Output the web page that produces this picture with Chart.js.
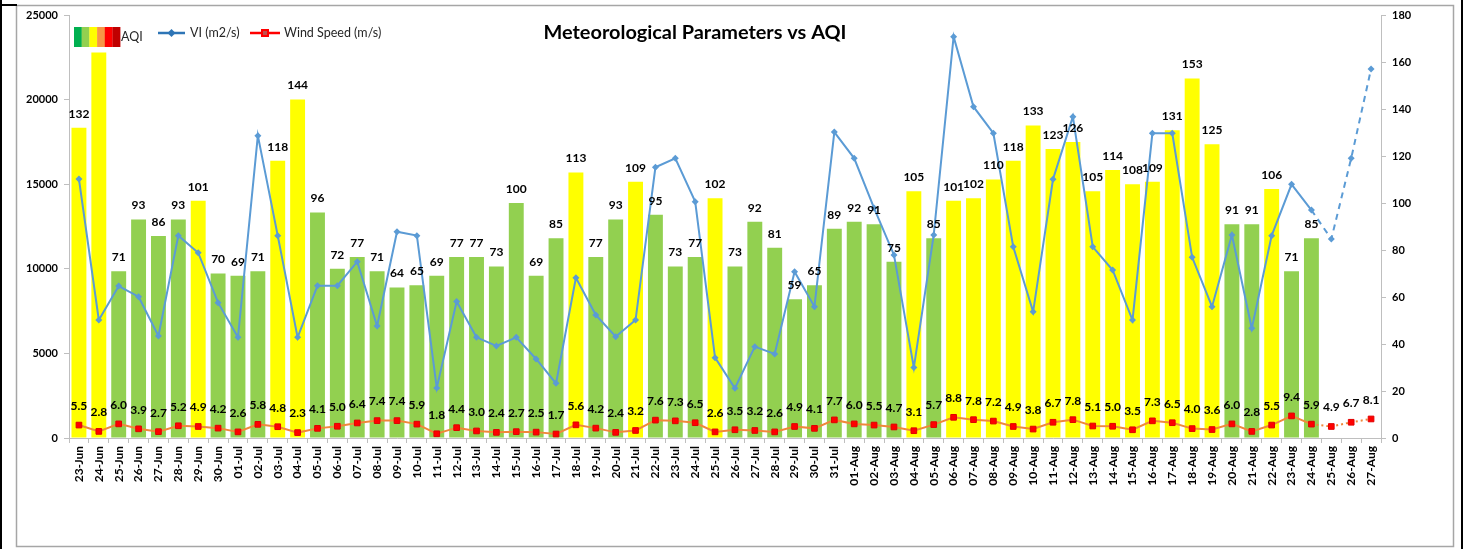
<!DOCTYPE html>
<html>
<head>
<meta charset="utf-8">
<script src="https://cdn.jsdelivr.net/npm/chart.js"></script>
<style>
  html, body { margin: 0; padding: 0; background: #fff; }
  #wrap { width: 1465px; height: 549px; position: relative; }
</style>
</head>
<body>
<div id="wrap"><canvas id="aqiChart"></canvas></div>
<script>
var days = [
  '23-Jun', '24-Jun', '25-Jun', '26-Jun', '27-Jun', '28-Jun', '29-Jun', '30-Jun',
  '01-Jul', '02-Jul', '03-Jul', '04-Jul', '05-Jul', '06-Jul', '07-Jul', '08-Jul', '09-Jul', '10-Jul',
  '11-Jul', '12-Jul', '13-Jul', '14-Jul', '15-Jul', '16-Jul', '17-Jul', '18-Jul', '19-Jul', '20-Jul',
  '21-Jul', '22-Jul', '23-Jul', '24-Jul', '25-Jul', '26-Jul', '27-Jul', '28-Jul', '29-Jul', '30-Jul', '31-Jul',
  '01-Aug', '02-Aug', '03-Aug', '04-Aug', '05-Aug', '06-Aug', '07-Aug', '08-Aug', '09-Aug', '10-Aug',
  '11-Aug', '12-Aug', '13-Aug', '14-Aug', '15-Aug', '16-Aug', '17-Aug', '18-Aug', '19-Aug', '20-Aug',
  '21-Aug', '22-Aug', '23-Aug', '24-Aug', '25-Aug', '26-Aug', '27-Aug'
];

// AQI (bars, right axis)
var aqi = [
  132, 164, 71, 93, 86, 93, 101, 70,
  69, 71, 118, 144, 96, 72, 77, 71, 64, 65,
  69, 77, 77, 73, 100, 69, 85, 113, 77, 93,
  109, 95, 73, 77, 102, 73, 92, 81, 59, 65, 89,
  92, 91, 75, 105, 85, 101, 102, 110, 118, 133,
  123, 126, 105, 114, 108, 109, 131, 153, 125, 91,
  91, 106, 71, 85, null, null, null
];

// ventilation index VI (m2/s), left axis
var vi = [
  15300, 6980, 8980, 8350, 6030, 11960, 10950, 8000,
  5950, 17870, 11960, 5950, 9000, 9000, 10420, 6620, 12190, 11960,
  2960, 8060, 5950, 5440, 5950, 4670, 3230, 9470, 7270, 5990,
  6970, 16000, 16530, 13970, 4750, 2940, 5400, 4970, 9830, 7760, 18080,
  16530, 13590, 10820, 4160, 12000, 23720, 19580, 18010, 11300, 7460,
  15290, 18990, 11300, 9930, 6970, 18010, 18010, 10680, 7760, 12000,
  6480, 11960, 14990, 13470, 11760, 16530, 21810
];

// wind speed (m/s), right axis
var windSpeed = [
  5.5, 2.8, 6.0, 3.9, 2.7, 5.2, 4.9, 4.2,
  2.6, 5.8, 4.8, 2.3, 4.1, 5.0, 6.4, 7.4, 7.4, 5.9,
  1.8, 4.4, 3.0, 2.4, 2.7, 2.5, 1.7, 5.6, 4.2, 2.4,
  3.2, 7.6, 7.3, 6.5, 2.6, 3.5, 3.2, 2.6, 4.9, 4.1, 7.7,
  6.0, 5.5, 4.7, 3.1, 5.7, 8.8, 7.8, 7.2, 4.9, 3.8,
  6.7, 7.8, 5.1, 5.0, 3.5, 7.3, 6.5, 4.0, 3.6, 6.0,
  2.8, 5.5, 9.4, 5.9, 4.9, 6.7, 8.1
];

var viTicks = [0, 5000, 10000, 15000, 20000, 25000];
var aqiTicks = [0, 20, 40, 60, 80, 100, 120, 140, 160, 180];

var forecastFrom = 62; // 24-Aug onward is drawn dashed
var FONT = 'Lato, "Open Sans", sans-serif';

var barColors = aqi.map(function (v) { return v > 100 ? '#FFFF00' : '#92D050'; });

// frame, title, legend and value labels drawn on the canvas
var decorations = {
  id: 'decorations',
  afterDatasetsDraw: function (chart) {
    var ctx = chart.ctx;
    ctx.save();
    ctx.font = 'bold 12px ' + FONT;
    ctx.fillStyle = '#000';
    ctx.textAlign = 'center';
    ctx.textBaseline = 'middle';
    chart.getDatasetMeta(0).data.forEach(function (bar, i) {
      if (aqi[i] == null) return;
      ctx.fillText(String(aqi[i]), bar.x, bar.y - 14);
    });
    chart.getDatasetMeta(2).data.forEach(function (pt, i) {
      ctx.fillText(windSpeed[i].toFixed(1), pt.x, pt.y - 19);
    });
    ctx.restore();
  },
  afterDraw: function (chart) {
    var ctx = chart.ctx;
    ctx.save();

    // outer frame
    ctx.strokeStyle = '#A6A6A6';
    ctx.lineWidth = 1.5;
    ctx.strokeRect(16.5, 5.5, 1437, 541);
    ctx.strokeStyle = '#000';
    ctx.lineWidth = 2;
    ctx.beginPath();
    ctx.moveTo(1, 0); ctx.lineTo(1, 549);
    ctx.moveTo(1462, 0); ctx.lineTo(1462, 549);
    ctx.moveTo(0, 5); ctx.lineTo(17, 5);
    ctx.stroke();

    // title
    var title = 'Meteorological Parameters vs AQI';
    ctx.font = 'bold 20px ' + FONT;
    var w = ctx.measureText(title).width;
    var size = Math.min(21, 20 * 303 / w);
    ctx.font = 'bold ' + size.toFixed(1) + 'px ' + FONT;
    ctx.fillStyle = '#000';
    ctx.textAlign = 'center';
    ctx.textBaseline = 'middle';
    ctx.fillText(title, 695, 33);

    // legend
    ctx.fillStyle = '#fff';
    ctx.fillRect(72, 25, 300, 24);
    var sw = ['#00B050', '#92D050', '#FFFF00', '#F79646', '#FF0000', '#C00000'];
    sw.forEach(function (c, i) {
      ctx.fillStyle = c;
      ctx.fillRect(74 + i * 7.7, 27, 7.9, 20);
    });
    ctx.font = '12.5px ' + FONT;
    ctx.fillStyle = '#262626';
    ctx.textAlign = 'left';
    ctx.fillText('AQI', 121, 37);

    ctx.strokeStyle = '#2E75B6';
    ctx.lineWidth = 2.5;
    ctx.beginPath(); ctx.moveTo(158, 33); ctx.lineTo(185, 33); ctx.stroke();
    ctx.fillStyle = '#2E75B6';
    ctx.beginPath();
    ctx.moveTo(171.5, 29); ctx.lineTo(175.5, 33); ctx.lineTo(171.5, 37); ctx.lineTo(167.5, 33);
    ctx.closePath(); ctx.fill();
    ctx.fillStyle = '#262626';
    ctx.fillText('VI (m2/s)', 190, 33);

    ctx.strokeStyle = '#FF0000';
    ctx.beginPath(); ctx.moveTo(250, 33); ctx.lineTo(280, 33); ctx.stroke();
    ctx.fillStyle = '#FF0000';
    ctx.fillRect(261, 29, 8, 8);
    ctx.fillStyle = '#C0504D';
    ctx.fillRect(263, 31, 4, 4);
    ctx.fillStyle = '#262626';
    ctx.fillText('Wind Speed (m/s)', 284, 33);

    ctx.restore();
  }
};

var tickFont = { family: FONT, weight: 'bold', size: 11 };

var ctx = document.getElementById('aqiChart').getContext('2d');
var chart = new Chart(ctx, {
  type: 'bar',
  data: {
    labels: days,
    datasets: [{
      label: 'AQI',
      data: aqi,
      yAxisID: 'yR',
      backgroundColor: barColors,
      borderWidth: 0,
      categoryPercentage: 1,
      barPercentage: 0.75,
      order: 3
    }, {
      type: 'line',
      label: 'VI (m2/s)',
      data: vi,
      yAxisID: 'yL',
      borderColor: '#5B9BD5',
      backgroundColor: '#5B9BD5',
      borderWidth: 2,
      pointStyle: 'rectRot',
      pointRadius: 3.5,
      pointBorderWidth: 0,
      tension: 0,
      segment: {
        borderDash: function (c) { return c.p0DataIndex >= forecastFrom ? [6, 5] : undefined; }
      },
      order: 2
    }, {
      type: 'line',
      label: 'Wind Speed (m/s)',
      data: windSpeed,
      yAxisID: 'yR',
      borderColor: '#F0883A',
      backgroundColor: '#FF0000',
      pointBorderColor: '#E00000',
      pointBackgroundColor: '#FF0000',
      borderWidth: 2,
      pointStyle: 'rect',
      pointRadius: 4,
      pointBorderWidth: 1,
      tension: 0,
      segment: {
        borderDash: function (c) { return c.p0DataIndex >= forecastFrom ? [2, 3] : undefined; }
      },
      order: 1
    }]
  },
  options: {
    responsive: true,
    maintainAspectRatio: false,
    animation: false,
    layout: { padding: { top: 15, left: 0, right: 0, bottom: 0 } },
    plugins: {
      legend: { display: false },
      title: { display: false },
      tooltip: { enabled: false }
    },
    scales: {
      x: {
        grid: { display: true, drawOnChartArea: false, tickLength: 5, color: '#BFBFBF', offset: true },
        border: { color: '#BFBFBF' },
        ticks: {
          autoSkip: false, minRotation: 90, maxRotation: 90, padding: 3,
          color: '#000', font: { family: FONT, weight: 'bold', size: 12 }
        },
        afterFit: function (s) { s.height = 111; }
      },
      yL: {
        position: 'left',
        min: viTicks[0],
        max: viTicks[viTicks.length - 1],
        grid: { drawOnChartArea: false, tickLength: 5, color: '#BFBFBF' },
        border: { color: '#BFBFBF' },
        ticks: {
          stepSize: viTicks[1] - viTicks[0], padding: 6, color: '#000', font: tickFont,
          callback: function (v) { return String(v); }
        },
        afterFit: function (s) { s.width = 69; }
      },
      yR: {
        position: 'right',
        min: aqiTicks[0],
        max: aqiTicks[aqiTicks.length - 1],
        grid: { drawOnChartArea: false, tickLength: 5, color: '#BFBFBF' },
        border: { color: '#BFBFBF' },
        ticks: {
          stepSize: aqiTicks[1] - aqiTicks[0], padding: 6, color: '#000', font: tickFont,
          callback: function (v) { return String(v); }
        },
        afterFit: function (s) { s.width = 84; }
      }
    }
  },
  plugins: [decorations]
});
</script>
</body>
</html>
